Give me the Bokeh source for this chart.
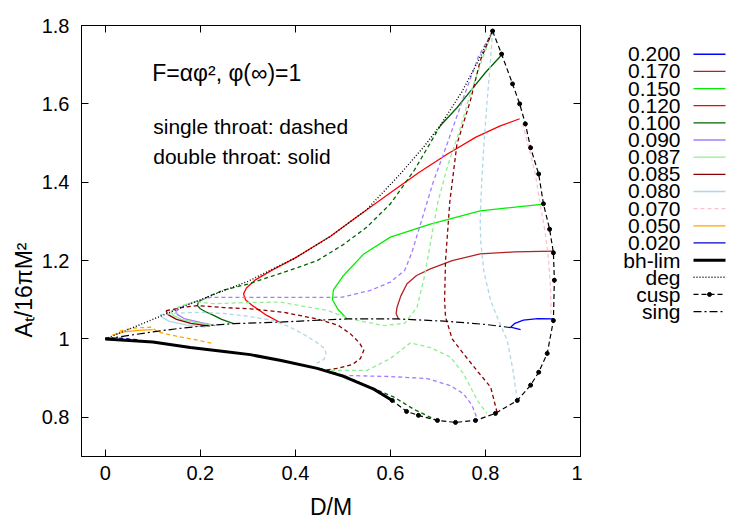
from bokeh.plotting import figure
from bokeh.models import Range1d, LinearAxis, FixedTicker, Label, Title
from bokeh.layouts import row
from bokeh.embed import file_html
from bokeh.resources import INLINE
from bokeh.core.properties import value

FONT = "Liberation Sans"

# ---------------- data ----------------
xtick_vals = [0.0, 0.2, 0.4, 0.6, 0.8, 1.0]
xtick_labels = ["0", "0.2", "0.4", "0.6", "0.8", "1"]
ytick_vals = [0.8, 1.0, 1.2, 1.4, 1.6, 1.8]
ytick_labels = ["0.8", "1", "1.2", "1.4", "1.6", "1.8"]

# alpha = 0.200 (blue)
a200_sol_D = [0.874, 0.853, 0.862, 0.88, 0.91, 0.944]
a200_sol_A = [1.024, 1.03, 1.04, 1.048, 1.052, 1.051]
# alpha = 0.170
a170_sol_D = [0.617, 0.612, 0.614, 0.622, 0.635, 0.655, 0.684, 0.73, 0.789, 0.86, 0.944]
a170_sol_A = [1.051, 1.065, 1.081, 1.11, 1.141, 1.162, 1.179, 1.2, 1.217, 1.222, 1.224]
# alpha = 0.150
a150_sol_D = [0.509, 0.49, 0.478, 0.48, 0.5, 0.544, 0.6, 0.684, 0.789, 0.923]
a150_sol_A = [1.051, 1.075, 1.1, 1.125, 1.16, 1.217, 1.26, 1.293, 1.327, 1.344]
# alpha = 0.120
a120_sol_D = [0.368, 0.34, 0.31, 0.295, 0.291, 0.297, 0.315, 0.35, 0.4, 0.474, 0.516, 0.6, 0.66, 0.72, 0.78, 0.83, 0.872]
a120_sol_A = [1.042, 1.06, 1.085, 1.1, 1.115, 1.13, 1.15, 1.175, 1.207, 1.262, 1.3, 1.373, 1.425, 1.472, 1.515, 1.543, 1.562]
# alpha = 0.100
a100_sol1_D = [0.27, 0.245, 0.228, 0.21, 0.2, 0.194, 0.196]
a100_sol1_A = [1.039, 1.05, 1.06, 1.07, 1.077, 1.085, 1.095]
a100_dash1_D = [0.196, 0.22, 0.25, 0.3, 0.35, 0.4, 0.446, 0.5, 0.55, 0.6, 0.65, 0.705]
a100_dash1_A = [1.095, 1.11, 1.125, 1.14, 1.16, 1.18, 1.2, 1.24, 1.285, 1.345, 1.43, 1.544]
a100_sol2_D = [0.705, 0.74, 0.77, 0.8, 0.832]
a100_sol2_A = [1.544, 1.59, 1.635, 1.68, 1.722]
a100_dash2_D = [0.45, 0.5, 0.537, 0.565, 0.607, 0.65, 0.698]
a100_dash2_A = [0.925, 0.908, 0.888, 0.873, 0.852, 0.82, 0.792]
# alpha = 0.090
a090_sol_D = [0.232, 0.2, 0.168, 0.152, 0.148]
a090_sol_A = [1.034, 1.042, 1.051, 1.062, 1.07]
a090_dash1_D = [0.148, 0.165, 0.186, 0.221, 0.3, 0.4, 0.474, 0.5, 0.558, 0.6, 0.63, 0.645, 0.665, 0.69, 0.72, 0.755, 0.785, 0.815]
a090_dash1_A = [1.07, 1.085, 1.094, 1.106, 1.106, 1.106, 1.106, 1.107, 1.124, 1.145, 1.175, 1.22, 1.3, 1.4, 1.5, 1.62, 1.72, 1.786]
a090_dash2_D = [0.47, 0.5, 0.6, 0.677, 0.726, 0.754, 0.772, 0.783]
a090_dash2_A = [0.915, 0.907, 0.904, 0.899, 0.881, 0.86, 0.83, 0.795]
# alpha = 0.087
a087_sol_D = [0.225, 0.19, 0.16, 0.143, 0.138]
a087_sol_A = [1.035, 1.042, 1.05, 1.06, 1.07]
a087_dash1_D = [0.138, 0.16, 0.19, 0.228, 0.3, 0.368, 0.467, 0.516, 0.586, 0.63, 0.656, 0.67, 0.684, 0.7, 0.72, 0.745, 0.768, 0.795, 0.815]
a087_dash1_A = [1.07, 1.085, 1.095, 1.09, 1.093, 1.094, 1.073, 1.051, 1.034, 1.04, 1.081, 1.15, 1.243, 1.35, 1.44, 1.53, 1.625, 1.72, 1.786]
a087_dash2_D = [0.46, 0.5, 0.551, 0.6, 0.642, 0.684, 0.726, 0.754, 0.783, 0.803]
a087_dash2_A = [0.92, 0.92, 0.92, 0.95, 0.99, 0.978, 0.954, 0.911, 0.843, 0.81]
# alpha = 0.085
a085_sol_D = [0.22, 0.18, 0.15, 0.132, 0.128]
a085_sol_A = [1.033, 1.04, 1.05, 1.062, 1.072]
a085_dash1_D = [0.128, 0.16, 0.193, 0.25, 0.305, 0.375, 0.446, 0.49, 0.516, 0.535, 0.544, 0.537, 0.52, 0.49, 0.46]
a085_dash1_A = [1.072, 1.08, 1.085, 1.08, 1.077, 1.068, 1.051, 1.035, 1.013, 0.99, 0.971, 0.95, 0.935, 0.925, 0.92]
a085_dash2_D = [0.815, 0.789, 0.768, 0.74, 0.725, 0.716, 0.714, 0.716, 0.73, 0.754, 0.785, 0.811, 0.825]
a085_dash2_A = [1.786, 1.71, 1.607, 1.497, 1.35, 1.2, 1.1, 1.056, 1.0, 0.962, 0.915, 0.877, 0.81]
# alpha = 0.080
a080_sol_D = [0.211, 0.17, 0.135, 0.12, 0.115]
a080_sol_A = [1.03, 1.036, 1.045, 1.055, 1.062]
a080_dash1_D = [0.115, 0.15, 0.2, 0.25, 0.3, 0.354, 0.389, 0.42, 0.446, 0.462, 0.465, 0.46, 0.445]
a080_dash1_A = [1.062, 1.066, 1.068, 1.065, 1.058, 1.047, 1.03, 1.01, 0.99, 0.975, 0.96, 0.948, 0.938]
a080_dash2_D = [0.815, 0.81, 0.803, 0.797, 0.792, 0.789, 0.79, 0.797, 0.811, 0.83, 0.846, 0.858, 0.867]
a080_dash2_A = [1.786, 1.7, 1.6, 1.5, 1.4, 1.3, 1.25, 1.17, 1.098, 1.04, 0.996, 0.92, 0.843]
# alpha = 0.070
a070_dash_D = [0.878, 0.893, 0.905, 0.915, 0.926, 0.933, 0.937, 0.938]
a070_dash_A = [1.55, 1.48, 1.42, 1.345, 1.27, 1.2, 1.13, 1.06]
# alpha = 0.050
a050_sol_D = [0.015, 0.04, 0.07, 0.1]
a050_sol_A = [1.01, 1.018, 1.022, 1.024]
a050_dash_D = [0.03, 0.06, 0.098, 0.11, 0.15, 0.19, 0.228]
a050_dash_A = [1.02, 1.028, 1.03, 1.018, 1.007, 0.998, 0.988]
# alpha = 0.020
a020_dash_D = [0.0, 0.03, 0.07]
a020_dash_A = [1.003, 1.002, 0.998]

# limiting curves
bh_D = [0.0, 0.1, 0.179, 0.25, 0.305, 0.37, 0.446, 0.5, 0.53, 0.565, 0.604]
bh_A = [1.0, 0.992, 0.978, 0.968, 0.96, 0.945, 0.925, 0.905, 0.89, 0.872, 0.843]
deg_D = [0.0, 0.1, 0.2, 0.3, 0.4, 0.474, 0.55, 0.62, 0.67, 0.705, 0.75, 0.785, 0.815]
deg_A = [1.0, 1.05, 1.1, 1.147, 1.207, 1.262, 1.33, 1.42, 1.49, 1.545, 1.63, 1.71, 1.786]
cusp_D = [0.815, 0.834, 0.857, 0.872, 0.884, 0.895, 0.912, 0.922, 0.935, 0.943, 0.945, 0.943,
          0.93, 0.912, 0.895, 0.867, 0.821, 0.779, 0.737, 0.699, 0.659, 0.634, 0.604]
cusp_A = [1.786, 1.727, 1.651, 1.6, 1.549, 1.488, 1.421, 1.345, 1.28, 1.22, 1.15, 1.047,
          0.963, 0.915, 0.882, 0.843, 0.81, 0.792, 0.787, 0.792, 0.805, 0.815, 0.843]
sing_D = [0.0, 0.05, 0.1, 0.15, 0.211, 0.27, 0.368, 0.45, 0.509, 0.617, 0.72, 0.8, 0.853]
sing_A = [1.0, 1.009, 1.018, 1.026, 1.034, 1.039, 1.043, 1.048, 1.051, 1.051, 1.045, 1.037, 1.029]

legend_labels = ["0.200", "0.170", "0.150", "0.120", "0.100", "0.090", "0.087", "0.085",
                 "0.080", "0.070", "0.050", "0.020", "bh-lim", "deg", "cusp", "sing"]

# ---------------- styles ----------------
C200, C170, C150, C120 = "#0000ff", "#b22222", "#00ee00", "#ff0000"
C100, C090, C087, C085 = "#006400", "#a47cff", "#90ee90", "#8b0000"
C080, C070, C050, C020 = "#add8e6", "#ffc0cb", "#ffa500", "#0000cd"
DASH = "4 3"
LW = 1.3

p = figure(width=582, height=525, x_range=Range1d(-0.05, 1.0), y_range=Range1d(0.7, 1.8),
           output_backend="svg", toolbar_location=None,
           min_border_left=81, min_border_right=2, min_border_top=25, min_border_bottom=69)
p.xgrid.visible = False
p.ygrid.visible = False
p.outline_line_color = "black"
p.outline_line_width = 1
p.background_fill_color = "white"
p.border_fill_color = "white"


def style_axis(ax, vals, labels, show):
    ax.ticker = FixedTicker(ticks=vals)
    ax.major_tick_in = 7
    ax.major_tick_out = 0
    ax.minor_tick_line_color = None
    ax.axis_line_color = "black"
    ax.major_tick_line_color = "black"
    if show:
        ax.major_label_overrides = {v: l for v, l in zip(vals, labels)}
        ax.major_label_text_font = FONT
        ax.major_label_text_font_size = "20px"
        ax.major_label_text_color = "black"
        ax.axis_label_text_font = FONT
        ax.axis_label_text_font_size = "23px"
        ax.axis_label_text_font_style = "normal"
        ax.axis_label_text_color = "black"
    else:
        # mirror axis: ticks only, labels not drawn
        ax.major_label_text_color = None
        ax.major_label_text_font_size = "1px"
        ax.major_label_standoff = 0


style_axis(p.xaxis[0], xtick_vals, xtick_labels, True)
style_axis(p.yaxis[0], ytick_vals, ytick_labels, True)
p.xaxis[0].axis_label = "D/M"
p.xaxis[0].major_label_standoff = 9
p.xaxis[0].axis_label_standoff = 11
p.yaxis[0].major_label_standoff = 12

top_ax = LinearAxis()
right_ax = LinearAxis()
style_axis(top_ax, xtick_vals, xtick_labels, False)
style_axis(right_ax, ytick_vals, ytick_labels, False)
p.add_layout(top_ax, "above")
p.add_layout(right_ax, "right")

# y axis title as a left-side title, anchored at the bottom and shifted up
ytitle = Title(text="Aₜ/16πM²", align="left", text_font=FONT, text_font_size="23px",
               text_font_style="normal", text_color="black", standoff=4, offset=119)
p.add_layout(ytitle, "left")

curves = [
    (a200_sol_D, a200_sol_A, C200, "solid"),
    (a170_sol_D, a170_sol_A, C170, "solid"),
    (a150_sol_D, a150_sol_A, C150, "solid"),
    (a120_sol_D, a120_sol_A, C120, "solid"),
    (a100_sol1_D, a100_sol1_A, C100, "solid"),
    (a100_dash1_D, a100_dash1_A, C100, DASH),
    (a100_sol2_D, a100_sol2_A, C100, "solid"),
    (a100_dash2_D, a100_dash2_A, C100, DASH),
    (a090_sol_D, a090_sol_A, C090, "solid"),
    (a090_dash1_D, a090_dash1_A, C090, DASH),
    (a090_dash2_D, a090_dash2_A, C090, DASH),
    (a087_sol_D, a087_sol_A, C087, "solid"),
    (a087_dash1_D, a087_dash1_A, C087, DASH),
    (a087_dash2_D, a087_dash2_A, C087, DASH),
    (a085_sol_D, a085_sol_A, C085, "solid"),
    (a085_dash1_D, a085_dash1_A, C085, DASH),
    (a085_dash2_D, a085_dash2_A, C085, DASH),
    (a080_sol_D, a080_sol_A, C080, "solid"),
    (a080_dash1_D, a080_dash1_A, C080, DASH),
    (a080_dash2_D, a080_dash2_A, C080, DASH),
    (a070_dash_D, a070_dash_A, C070, DASH),
    (a050_sol_D, a050_sol_A, C050, "solid"),
    (a050_dash_D, a050_dash_A, C050, DASH),
    (a020_dash_D, a020_dash_A, C020, DASH),
]
for d, a, c, dash in curves:
    p.line(d, a, line_color=c, line_width=LW, line_dash=dash)

p.line(bh_D, bh_A, line_color="black", line_width=3)
p.line(deg_D, deg_A, line_color="black", line_width=1.4, line_dash="1 2")
p.line(cusp_D, cusp_A, line_color="black", line_width=1.2, line_dash="5 3")
p.scatter(cusp_D, cusp_A, size=4, color="black")
p.line(sing_D, sing_A, line_color="black", line_width=1.2, line_dash="8 3 2 3")

p.add_layout(Label(x=0.099, y=1.679, text="F=αφ², φ(∞)=1", text_font=FONT,
                   text_font_size="23px", text_baseline="middle", text_color="black"))
p.add_layout(Label(x=0.101, y=1.541, text="single throat: dashed", text_font=FONT,
                   text_font_size="21px", text_baseline="middle", text_color="black"))
p.add_layout(Label(x=0.101, y=1.465, text="double throat: solid", text_font=FONT,
                   text_font_size="21px", text_baseline="middle", text_color="black"))

# ---------------- legend panel ----------------
leg = figure(width=168, height=525, x_range=Range1d(0, 168), y_range=Range1d(525, 0),
             output_backend="svg", toolbar_location=None, min_border=0,
             x_axis_type=None, y_axis_type=None, outline_line_color=None)
leg.xgrid.visible = False
leg.ygrid.visible = False

leg_styles = [
    (C200, "solid", LW), (C170, "solid", LW), (C150, "solid", LW), (C120, "solid", LW),
    (C100, "solid", LW), (C090, "solid", LW), (C087, "solid", LW), (C085, "solid", LW),
    (C080, "solid", LW), (C070, DASH, LW), (C050, "solid", LW), (C020, "solid", LW),
    ("black", "solid", 3), ("black", "1 2", 1.4), ("black", "5 3", 1.2), ("black", "8 3 2 3", 1.2),
]
row_y = [35 + i * 20.9 for i in range(len(legend_labels))]
leg.text(x=[98] * len(legend_labels), y=row_y, text=legend_labels, text_align="right",
         text_baseline="middle", text_font=value(FONT), text_font_size="21px", text_color="black")
for yy, (c, dash, w) in zip(row_y, leg_styles):
    leg.line([111, 143], [yy, yy], line_color=c, line_dash=dash, line_width=w)
leg.scatter([127], [row_y[14]], size=4, color="black")

layout = row(p, leg)
open("out.html", "w").write(file_html(layout, INLINE, title="plot"))
